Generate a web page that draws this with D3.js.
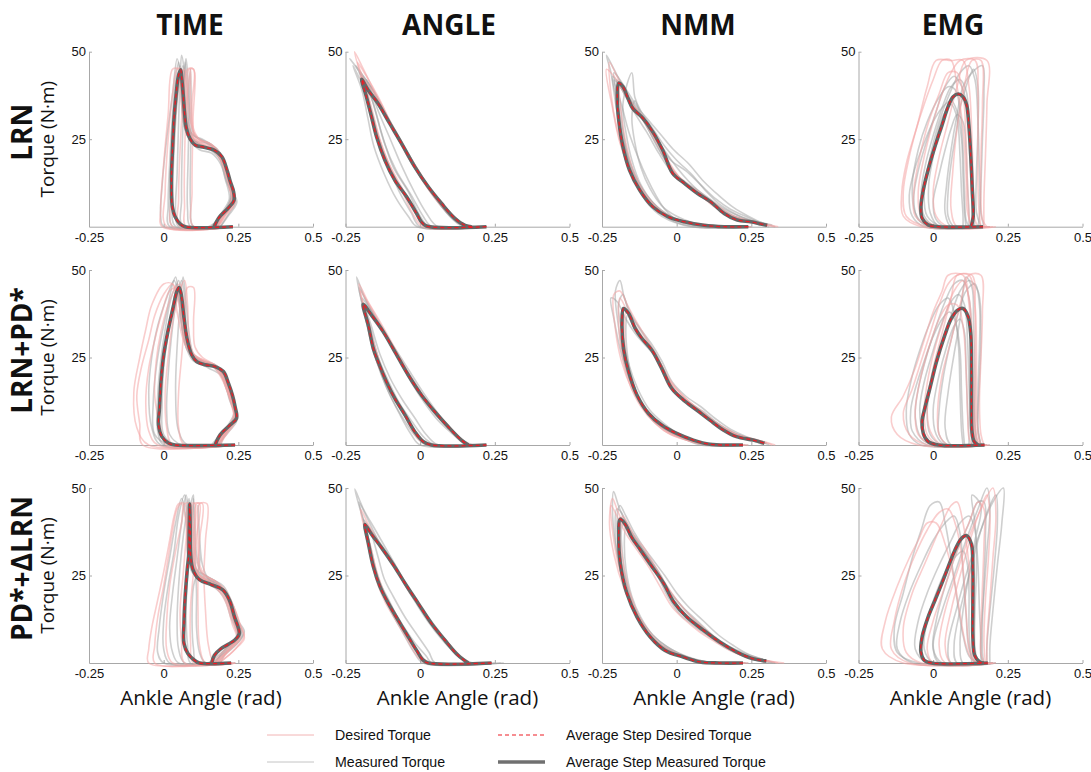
<!DOCTYPE html>
<html>
<head>
<meta charset="utf-8">
<script src="https://cdn.jsdelivr.net/npm/d3@7"></script>
<style>
  html, body { margin: 0; padding: 0; background: #fff; }
  svg { display: block; }
</style>
</head>
<body>
<svg id="chart" width="1091" height="772"></svg>
<script>
// ---- labels and ticks ----
const columnTitles = ["TIME", "ANGLE", "NMM", "EMG"];
const rowTitles = ["LRN", "LRN+PD*", "PD*+\u0394LRN"];
const xTicks = [-0.25, 0, 0.25, 0.5];
const yTicks = [25, 50];
const xLabel = "Ankle Angle (rad)";
const yLabel = "Torque (N\u00b7m)";
const legendLabels = ["Desired Torque", "Measured Torque", "Average Step Desired Torque", "Average Step Measured Torque"];

// ---- LRN row: [ankle angle (rad), torque (N·m)] ----
const lrnTimeAvg = [[0.232,0],[0.072,0],[0.055,0.8],[0.038,2.9],[0.029,5.7],[0.026,13.3],[0.030,22.9],[0.035,31.4],[0.042,38.1],[0.049,42.9],[0.057,44.8],[0.060,42.9],[0.065,38.1],[0.070,32.4],[0.076,28.1],[0.089,25],[0.106,23.3],[0.135,22.7],[0.169,21.9],[0.195,20],[0.212,16.2],[0.223,12.9],[0.234,10],[0.235,7.4],[0.215,5.2],[0.186,2.7],[0.169,0]];
const lrnTimeMeasured = [
  [[0.2,0],[0.0,0],[-0.01,3],[-0.005,12],[0.01,25],[0.03,38],[0.045,48],[0.055,44],[0.062,33],[0.075,27],[0.1,24.5],[0.14,24],[0.18,22],[0.205,17],[0.225,10],[0.22,6],[0.19,3],[0.16,0]],
  [[0.22,0],[0.05,0],[0.04,4],[0.045,15],[0.05,30],[0.055,42],[0.06,49],[0.068,45],[0.072,35],[0.08,29],[0.1,26],[0.13,25],[0.165,23],[0.2,19],[0.22,12],[0.24,8],[0.21,5],[0.17,1],[0.15,0]],
  [[0.21,0],[0.09,0],[0.08,5],[0.082,20],[0.085,35],[0.075,48],[0.07,42],[0.075,32],[0.09,27],[0.12,25],[0.16,23.5],[0.19,21],[0.215,15],[0.23,9],[0.2,4],[0.175,0]],
  [[0.2,0],[0.02,0],[0.015,6],[0.02,18],[0.028,30],[0.04,42],[0.05,47],[0.058,40],[0.066,30],[0.085,25],[0.12,22],[0.16,21],[0.19,18],[0.21,13],[0.23,8],[0.2,4],[0.18,0]],
  [[0.22,0],[0.065,0],[0.06,8],[0.062,22],[0.068,38],[0.072,47],[0.078,40],[0.083,30],[0.1,25],[0.13,23],[0.17,22],[0.2,18],[0.22,12],[0.24,7],[0.22,4],[0.19,0]],
  [[0.21,0],[0.03,0],[0.02,4],[0.025,14],[0.035,28],[0.05,40],[0.065,46],[0.07,38],[0.075,30],[0.09,26],[0.12,23.5],[0.155,22],[0.19,19],[0.21,14],[0.225,9],[0.21,5],[0.18,2],[0.16,0]],
  [[0.22,0],[0.1,0],[0.09,6],[0.09,20],[0.092,34],[0.09,45],[0.085,38],[0.09,30],[0.105,26],[0.14,24],[0.175,22],[0.205,17],[0.225,11],[0.245,7],[0.215,3],[0.19,0]],
  [[0.2,0],[0.04,0],[0.03,8],[0.035,22],[0.045,36],[0.055,46],[0.062,40],[0.068,30],[0.08,26],[0.11,24],[0.15,22.5],[0.185,20],[0.205,14],[0.22,8],[0.195,4],[0.165,0]]
];
const lrnTimeDesired = [
  [[0.2,0],[-0.005,0],[-0.01,5],[0.0,18],[0.015,32],[0.03,45],[0.05,45],[0.06,35],[0.08,27],[0.12,24],[0.17,22],[0.2,18],[0.225,10],[0.235,6],[0.2,3],[0.17,0]],
  [[0.22,0],[0.1,0],[0.095,10],[0.098,30],[0.1,45],[0.085,45],[0.085,33],[0.1,27],[0.13,24],[0.17,22.5],[0.205,17],[0.225,11],[0.24,7],[0.21,4],[0.18,0]],
  [[0.21,0],[0.03,0],[0.025,8],[0.035,25],[0.05,40],[0.07,45],[0.075,38],[0.08,30],[0.1,25.5],[0.14,23],[0.18,21],[0.21,15],[0.235,8],[0.22,5],[0.19,1],[0.17,0]],
  [[0.22,0],[0.075,0],[0.07,6],[0.07,20],[0.078,36],[0.09,45],[0.09,37],[0.095,29],[0.11,25],[0.15,24],[0.185,21],[0.215,14],[0.23,9],[0.205,4],[0.18,0]],
  [[0.21,0],[0.01,0],[0.005,10],[0.015,25],[0.03,38],[0.045,45],[0.06,45],[0.065,36],[0.075,29],[0.095,25],[0.13,23],[0.17,21.5],[0.2,17],[0.22,11],[0.23,7],[0.2,3],[0.175,0]],
  [[0.22,0],[0.055,0],[0.05,8],[0.055,22],[0.065,36],[0.08,45],[0.1,45],[0.095,35],[0.1,28],[0.12,25],[0.16,23.5],[0.195,20],[0.22,13],[0.24,8],[0.21,4],[0.185,0]]
];

const lrnAngleAvg = [[0.222,0],[0.021,0.2],[0.004,1.4],[-0.012,3.8],[-0.046,8.6],[-0.085,13.3],[-0.118,19],[-0.146,25.7],[-0.163,31.4],[-0.18,37.1],[-0.196,42.1],[-0.174,39],[-0.141,35.2],[-0.102,29.5],[-0.0625,23.8],[-0.018,17.1],[0.027,11.4],[0.071,6.7],[0.116,2.4],[0.15,0.4],[0.172,0]];
const lrnAngleMeasured = [
  [[0.2,0],[0.0,0],[-0.03,4],[-0.07,10],[-0.11,18],[-0.14,26],[-0.165,34],[-0.19,42],[-0.215,46],[-0.19,43],[-0.15,38],[-0.11,31],[-0.07,25],[-0.02,18],[0.03,11],[0.08,5],[0.13,1],[0.16,0]],
  [[0.21,0],[0.04,0],[0.01,3],[-0.03,9],[-0.08,16],[-0.12,24],[-0.15,33],[-0.18,41],[-0.235,48],[-0.2,44],[-0.165,40],[-0.12,33],[-0.08,26],[-0.03,19],[0.02,12],[0.07,6],[0.12,1.5],[0.15,0]],
  [[0.22,0],[0.06,0],[0.02,4],[-0.02,10],[-0.06,17],[-0.1,25],[-0.14,33],[-0.17,40],[-0.18,42],[-0.16,39],[-0.12,33],[-0.08,27],[-0.04,21],[0.0,15],[0.05,9],[0.1,4],[0.14,1],[0.18,0]],
  [[0.2,0],[-0.01,0],[-0.04,3],[-0.08,8],[-0.12,15],[-0.155,23],[-0.175,31],[-0.195,39],[-0.225,46],[-0.2,42],[-0.16,37],[-0.12,32],[-0.08,26],[-0.035,19],[0.01,13],[0.06,7],[0.11,2],[0.14,0]],
  [[0.22,0],[0.03,0],[0.0,3],[-0.04,10],[-0.09,17],[-0.13,27],[-0.16,36],[-0.205,44],[-0.18,41],[-0.14,35],[-0.1,29],[-0.05,22],[-0.01,16],[0.04,10],[0.09,4],[0.13,1],[0.17,0]]
];
const lrnAngleDesired = [
  [[0.22,0],[0.02,0],[-0.01,3],[-0.05,9],[-0.09,15],[-0.125,22],[-0.155,30],[-0.18,38],[-0.22,50],[-0.19,45],[-0.15,38],[-0.11,31],[-0.065,24],[-0.02,17],[0.025,11],[0.07,6],[0.12,2],[0.16,0]],
  [[0.2,0],[0.03,0],[0.0,2],[-0.04,8],[-0.08,14],[-0.115,20],[-0.145,27],[-0.17,35],[-0.2,43],[-0.17,40],[-0.13,35],[-0.09,28],[-0.05,22],[-0.005,16],[0.04,10],[0.09,5],[0.14,1],[0.175,0]],
  [[0.21,0],[0.01,0],[-0.02,3],[-0.06,10],[-0.1,17],[-0.135,25],[-0.16,33],[-0.185,41],[-0.21,47],[-0.18,43],[-0.14,37],[-0.1,30],[-0.055,23],[-0.01,16],[0.04,10],[0.09,5],[0.13,1.5],[0.165,0]]
];

const lrnNmmAvg = [[0.24,0],[0.159,0],[0.092,0.4],[0.026,1.4],[-0.03,2.9],[-0.08,5.7],[-0.124,10.5],[-0.158,16.2],[-0.18,22.9],[-0.194,30.5],[-0.199,37.1],[-0.194,41],[-0.18,40],[-0.163,36.7],[-0.147,33.8],[-0.113,31],[-0.08,27.1],[-0.047,21.9],[-0.013,15.2],[0.026,12.4],[0.07,9.5],[0.114,7.1],[0.159,3.8],[0.203,1.9],[0.248,1.4],[0.281,0.8],[0.303,0.4]];
const lrnNmmMeasured = [
  [[0.24,0],[0.1,0],[0.0,2],[-0.07,6],[-0.13,13],[-0.17,22],[-0.2,33],[-0.22,44],[-0.235,49],[-0.21,45],[-0.18,40],[-0.14,34],[-0.1,29],[-0.06,24],[-0.02,19],[0.03,16],[0.08,12],[0.13,8],[0.18,5],[0.23,3],[0.27,1.5],[0.32,0.5]],
  [[0.22,0],[0.05,0],[-0.05,3],[-0.1,7],[-0.14,13],[-0.165,20],[-0.18,28],[-0.19,36],[-0.2,42],[-0.175,38],[-0.14,34],[-0.11,30],[-0.07,24],[-0.03,18],[0.02,13],[0.06,10],[0.11,7],[0.16,4],[0.21,2.5],[0.26,1.5],[0.3,0.5]],
  [[0.25,0],[0.12,0],[0.05,1],[-0.02,3],[-0.08,7],[-0.12,12],[-0.15,19],[-0.17,27],[-0.18,35],[-0.15,44],[-0.14,37],[-0.12,33],[-0.08,28],[-0.04,23],[0.0,19],[0.05,15],[0.1,10],[0.15,6],[0.2,3.5],[0.24,2],[0.29,0.5]],
  [[0.23,0],[0.08,0],[0.0,2],[-0.04,5],[-0.07,9],[-0.1,14],[-0.13,20],[-0.16,27],[-0.185,35],[-0.21,42],[-0.19,40],[-0.16,37],[-0.12,32],[-0.09,28],[-0.05,23],[0.0,17],[0.04,13],[0.09,9],[0.14,5.5],[0.19,3],[0.25,1.5],[0.28,0.5]],
  [[0.22,0],[0.06,0],[-0.02,2],[-0.06,5],[-0.11,10],[-0.15,17],[-0.175,25],[-0.195,34],[-0.215,43],[-0.195,41],[-0.17,37],[-0.13,31],[-0.1,27],[-0.06,21],[-0.02,16],[0.02,13],[0.07,10],[0.12,7],[0.17,4],[0.22,2],[0.27,1],[0.31,0]],
  [[0.23,0],[0.1,0],[0.02,1.5],[-0.05,4],[-0.1,8],[-0.14,14],[-0.17,21],[-0.19,29],[-0.2,37],[-0.21,44],[-0.19,42],[-0.16,38],[-0.13,34],[-0.09,30],[-0.05,26],[-0.01,22],[0.04,18],[0.09,13],[0.14,9],[0.19,5.5],[0.24,3],[0.29,1],[0.33,0]],
  [[0.24,0],[0.13,0],[0.06,1],[0.0,3],[-0.05,6],[-0.09,11],[-0.12,17],[-0.14,24],[-0.15,31],[-0.14,36],[-0.12,32],[-0.09,27],[-0.06,22],[-0.03,18],[0.01,14],[0.06,11],[0.11,8],[0.16,5],[0.21,3],[0.26,1.5],[0.3,0]]
];
const lrnNmmDesired = [
  [[0.24,0],[0.1,0.3],[0.02,1.5],[-0.04,3.5],[-0.1,8],[-0.15,15],[-0.19,24],[-0.215,34],[-0.235,45],[-0.21,43],[-0.18,39],[-0.15,35],[-0.11,31],[-0.07,25],[-0.03,19],[0.01,14],[0.06,10],[0.11,7],[0.16,4],[0.21,2],[0.26,1],[0.33,0]],
  [[0.23,0],[0.12,0],[0.05,1],[-0.01,2.5],[-0.06,5],[-0.11,10],[-0.145,16],[-0.17,24],[-0.185,32],[-0.19,40],[-0.17,38],[-0.15,35],[-0.12,32],[-0.085,27],[-0.05,22],[-0.01,16],[0.03,12.5],[0.08,9.5],[0.13,6.5],[0.18,3.5],[0.23,2],[0.3,0.5]],
  [[0.25,0],[0.14,0],[0.07,0.5],[0.0,2],[-0.06,4.5],[-0.12,10],[-0.165,18],[-0.2,28],[-0.22,38],[-0.225,47],[-0.2,43],[-0.17,38],[-0.14,34],[-0.1,29],[-0.06,23],[-0.02,17],[0.02,13],[0.07,10],[0.12,6],[0.17,3.5],[0.22,2],[0.28,1],[0.34,0]]
];

const lrnEmgAvg = [[0.167,0],[0.017,0],[-0.017,0.5],[-0.037,2.4],[-0.041,5.7],[-0.033,10.5],[-0.017,16.2],[0.006,22.9],[0.028,28.6],[0.05,34.3],[0.067,37.1],[0.084,37.9],[0.1,37.1],[0.112,34.8],[0.119,29.5],[0.126,20],[0.131,10.5],[0.134,2.9],[0.128,0.2]];
const lrnEmgMeasured = [
  [[0.17,0],[0.0,0],[-0.05,2],[-0.065,8],[-0.05,16],[-0.02,25],[0.01,33],[0.04,40],[0.07,43],[0.09,41],[0.11,36],[0.125,25],[0.13,12],[0.135,3],[0.14,0]],
  [[0.16,0],[0.04,0],[0.01,2],[0.0,7],[0.02,15],[0.04,22],[0.06,28],[0.08,32],[0.1,30],[0.11,22],[0.115,12],[0.12,4],[0.12,0]],
  [[0.19,0],[0.03,0],[-0.02,3],[-0.03,10],[-0.01,20],[0.02,30],[0.05,37],[0.09,44],[0.12,46],[0.14,42],[0.15,30],[0.155,15],[0.16,4],[0.17,0]],
  [[0.15,0],[-0.03,0],[-0.07,3],[-0.08,9],[-0.06,17],[-0.03,24],[0.0,30],[0.03,34],[0.06,36],[0.08,33],[0.095,25],[0.1,14],[0.105,4],[0.11,0]],
  [[0.18,0],[0.06,0],[0.04,4],[0.045,12],[0.06,22],[0.08,32],[0.1,40],[0.13,44],[0.165,46],[0.17,38],[0.165,25],[0.16,12],[0.155,3],[0.15,0]],
  [[0.16,0],[0.02,0],[-0.01,4],[-0.015,12],[0.0,20],[0.015,27],[0.035,32],[0.06,35],[0.08,31],[0.09,20],[0.095,10],[0.1,3],[0.1,0]],
  [[0.17,0],[0.01,0],[-0.03,3],[-0.04,10],[-0.025,18],[0.0,26],[0.03,34],[0.06,40],[0.09,42],[0.11,39],[0.12,30],[0.125,18],[0.13,6],[0.135,0]],
  [[0.19,0],[0.07,0],[0.05,3],[0.05,10],[0.06,18],[0.075,26],[0.09,34],[0.11,40],[0.135,45],[0.15,40],[0.15,28],[0.145,15],[0.145,4],[0.16,0]],
  [[0.16,0],[-0.02,0],[-0.06,4],[-0.07,12],[-0.05,22],[-0.02,30],[0.02,37],[0.05,40],[0.075,39],[0.09,33],[0.1,22],[0.105,10],[0.11,2],[0.12,0]]
];
const lrnEmgDesired = [
  [[0.18,0],[-0.02,0],[-0.09,3],[-0.1,10],[-0.08,20],[-0.05,30],[-0.02,40],[0.01,47.5],[0.06,47.5],[0.1,47.5],[0.12,40],[0.13,25],[0.135,10],[0.14,2],[0.15,0]],
  [[0.2,0],[0.05,0],[0.01,3],[0.0,10],[0.02,20],[0.05,30],[0.08,40],[0.11,47.5],[0.18,47.5],[0.18,35],[0.175,20],[0.17,8],[0.17,0]],
  [[0.17,0],[0.0,0],[-0.06,3],[-0.065,10],[-0.045,20],[-0.015,30],[0.02,38],[0.05,44],[0.08,44],[0.1,38],[0.11,25],[0.115,12],[0.12,3],[0.125,0]],
  [[0.21,0],[0.08,0],[0.06,5],[0.065,15],[0.08,28],[0.1,38],[0.13,47.5],[0.16,47.5],[0.165,35],[0.16,20],[0.16,8],[0.165,2],[0.18,0]],
  [[0.19,0],[0.02,0],[-0.04,3],[-0.05,10],[-0.03,20],[0.0,30],[0.03,38],[0.06,44],[0.09,47.5],[0.14,47.5],[0.15,38],[0.15,25],[0.15,12],[0.155,3],[0.16,0]],
  [[0.17,0],[-0.04,0],[-0.1,3],[-0.105,10],[-0.09,18],[-0.06,27],[-0.03,35],[0.0,42],[0.03,47.5],[0.06,47.5],[0.08,40],[0.1,28],[0.11,15],[0.115,4],[0.13,0]]
];

// ---- LRN+PD* row ----
const lrnPdTimeAvg = [[0.239,0],[0.039,0],[0.017,0.5],[-0.006,2.4],[-0.017,5.7],[-0.014,10.5],[-0.009,18.1],[0.0,25.7],[0.014,32.4],[0.031,39],[0.044,43.8],[0.052,45],[0.059,42.9],[0.067,37.1],[0.078,30.5],[0.094,25.7],[0.111,23.8],[0.139,22.9],[0.172,22.4],[0.2,21],[0.217,17.6],[0.23,14.3],[0.239,11],[0.244,7.6],[0.222,5.7],[0.189,2.9],[0.172,0]];
const lrnPdTimeMeasured = [
  [[0.23,0],[0.02,0],[-0.03,3],[-0.035,12],[-0.025,22],[-0.01,30],[0.01,38],[0.03,46],[0.04,48],[0.05,43],[0.06,35],[0.075,28],[0.1,24],[0.14,23.5],[0.18,22.5],[0.205,19],[0.225,14],[0.235,9],[0.21,5],[0.18,2],[0.16,0]],
  [[0.24,0],[0.06,0],[0.02,3],[0.01,10],[0.015,20],[0.025,30],[0.04,40],[0.06,47],[0.07,42],[0.075,34],[0.085,27],[0.11,24],[0.15,22],[0.19,20],[0.21,16],[0.23,11],[0.245,7],[0.22,4],[0.18,0]],
  [[0.22,0],[0.0,0],[-0.02,4],[-0.02,14],[-0.01,24],[0.005,33],[0.025,42],[0.045,46],[0.055,40],[0.065,32],[0.09,26],[0.13,24],[0.17,23],[0.2,20],[0.22,15],[0.24,9],[0.215,5],[0.185,2],[0.17,0]],
  [[0.24,0],[0.08,0],[0.05,4],[0.04,15],[0.045,28],[0.055,40],[0.065,48],[0.075,41],[0.085,32],[0.1,26],[0.13,24],[0.17,22],[0.2,19],[0.22,13],[0.24,8],[0.21,4],[0.19,0]],
  [[0.23,0],[0.04,0],[0.0,3],[-0.005,12],[0.0,22],[0.015,32],[0.035,42],[0.05,47],[0.062,41],[0.07,33],[0.085,27],[0.115,24.5],[0.155,23],[0.195,21],[0.22,16],[0.24,10],[0.22,5],[0.19,2],[0.17,0]],
  [[0.24,0],[-0.01,0],[-0.04,5],[-0.05,15],[-0.04,25],[-0.02,34],[0.01,42],[0.035,47],[0.05,42],[0.06,34],[0.08,27],[0.12,24],[0.16,23],[0.2,20],[0.225,14],[0.245,8],[0.215,4],[0.18,0]]
];
const lrnPdTimeDesired = [
  [[0.22,0],[-0.05,0],[-0.09,5],[-0.1,15],[-0.08,25],[-0.06,33],[-0.04,40],[0.0,46],[0.03,46],[0.045,38],[0.07,29],[0.1,25],[0.14,23],[0.18,22],[0.21,17],[0.23,11],[0.24,7],[0.2,3],[0.17,0]],
  [[0.24,0],[0.07,0],[0.05,5],[0.05,15],[0.06,25],[0.07,35],[0.08,45],[0.1,45],[0.1,35],[0.105,28],[0.13,25],[0.17,23],[0.2,20],[0.22,15],[0.245,8],[0.22,5],[0.19,0]],
  [[0.23,0],[-0.02,0],[-0.05,4],[-0.06,12],[-0.05,22],[-0.03,30],[-0.005,38],[0.02,44],[0.05,45],[0.06,38],[0.075,30],[0.095,26],[0.13,24],[0.17,22],[0.2,18],[0.225,12],[0.235,7],[0.2,3],[0.175,0]],
  [[0.22,0],[0.03,0],[0.01,5],[0.005,15],[0.015,25],[0.03,35],[0.05,43],[0.07,47],[0.08,40],[0.085,31],[0.1,26],[0.14,24],[0.18,22],[0.21,16],[0.235,9],[0.21,4],[0.18,0]],
  [[0.22,0],[-0.07,0],[-0.08,6],[-0.09,14],[-0.075,22],[-0.05,30],[-0.03,37],[0.0,43],[0.03,46],[0.05,41],[0.065,32],[0.09,26],[0.13,24],[0.175,22],[0.205,18],[0.23,12],[0.245,8],[0.21,4],[0.18,0]],
  [[0.23,0],[0.01,0],[-0.01,5],[-0.03,14],[-0.025,24],[-0.01,32],[0.015,40],[0.04,45],[0.055,46],[0.065,38],[0.08,30],[0.1,26],[0.14,24],[0.18,22.5],[0.21,18],[0.23,12],[0.24,7],[0.21,3],[0.18,0]]
];

const lrnPdAngleAvg = [[0.222,0],[0.038,0],[0.01,1],[-0.018,3.8],[-0.051,8.6],[-0.085,13.3],[-0.113,18.1],[-0.141,23.8],[-0.157,27.6],[-0.174,34.3],[-0.191,40.2],[-0.163,37.1],[-0.124,32.4],[-0.085,26.7],[-0.04,20],[0.004,14.3],[0.049,9.5],[0.094,5.2],[0.138,1.4],[0.161,0]];
const lrnPdAngleMeasured = [
  [[0.2,0],[0.02,0],[-0.02,3],[-0.06,8],[-0.1,14],[-0.13,20],[-0.16,28],[-0.185,37],[-0.213,48],[-0.19,43],[-0.155,37],[-0.115,31],[-0.075,25],[-0.03,18],[0.015,12],[0.06,7],[0.11,3],[0.15,0]],
  [[0.22,0],[0.06,0],[0.02,3],[-0.02,8],[-0.06,13],[-0.1,19],[-0.135,26],[-0.16,33],[-0.18,39],[-0.16,37],[-0.12,32],[-0.08,27],[-0.035,21],[0.01,15],[0.06,9],[0.11,4],[0.15,1],[0.175,0]],
  [[0.21,0],[0.0,0],[-0.03,3],[-0.07,9],[-0.11,16],[-0.145,24],[-0.17,32],[-0.19,39],[-0.205,45],[-0.18,41],[-0.14,35],[-0.1,29],[-0.06,23],[-0.02,17],[0.03,11],[0.08,6],[0.13,2],[0.16,0]],
  [[0.22,0],[0.05,0],[0.015,2],[-0.03,7],[-0.07,12],[-0.105,18],[-0.14,25],[-0.165,33],[-0.195,42],[-0.17,39],[-0.13,34],[-0.09,28],[-0.05,22],[-0.005,16],[0.04,10],[0.085,6],[0.13,2],[0.165,0]]
];
const lrnPdAngleDesired = [
  [[0.21,0],[0.03,0],[0.0,2],[-0.04,7],[-0.08,13],[-0.115,19],[-0.145,26],[-0.17,34],[-0.2,44],[-0.17,40],[-0.13,34],[-0.09,28],[-0.045,21],[0.0,15],[0.045,10],[0.09,5.5],[0.135,1.5],[0.165,0]],
  [[0.22,0],[0.04,0],[0.01,1],[-0.02,4],[-0.055,9],[-0.09,14],[-0.12,19],[-0.15,25],[-0.17,33],[-0.19,40],[-0.16,37],[-0.12,32],[-0.08,26],[-0.035,20],[0.01,14],[0.055,9],[0.1,5],[0.145,1],[0.17,0]],
  [[0.2,0],[0.025,0],[-0.01,2],[-0.05,8],[-0.09,14],[-0.125,21],[-0.155,29],[-0.18,37],[-0.205,46],[-0.175,41],[-0.14,36],[-0.1,30],[-0.055,23],[-0.01,16],[0.035,10.5],[0.08,6],[0.125,2],[0.155,0]]
];

const lrnPdNmmAvg = [[0.222,0],[0.189,0],[0.111,0.2],[0.056,1.4],[0.0,3.3],[-0.05,5.7],[-0.094,9],[-0.133,14.3],[-0.161,21],[-0.178,27.6],[-0.183,35.2],[-0.178,39],[-0.161,37.6],[-0.139,33.3],[-0.117,30.5],[-0.083,27.1],[-0.05,21.9],[-0.017,16.2],[0.022,12.9],[0.067,10],[0.111,7.1],[0.156,4.3],[0.2,2.4],[0.256,1.4],[0.294,0.5]];
const lrnPdNmmMeasured = [
  [[0.24,0],[0.12,0],[0.04,1.5],[-0.03,4],[-0.09,8],[-0.14,15],[-0.175,24],[-0.195,34],[-0.205,44],[-0.19,47],[-0.175,42],[-0.15,37],[-0.12,33],[-0.085,29],[-0.05,24],[-0.015,18],[0.03,14],[0.08,11],[0.13,7.5],[0.18,4.5],[0.23,2.5],[0.28,1],[0.31,0]],
  [[0.22,0],[0.1,0],[0.03,1.5],[-0.03,4],[-0.08,7],[-0.12,12],[-0.15,19],[-0.165,26],[-0.17,34],[-0.165,37],[-0.145,34],[-0.12,31],[-0.09,28],[-0.06,23],[-0.03,18],[0.01,14],[0.05,11],[0.1,8],[0.15,5],[0.2,3],[0.25,1.5],[0.29,0]],
  [[0.23,0],[0.14,0],[0.07,1],[0.01,3],[-0.04,6],[-0.09,10],[-0.13,16],[-0.16,23],[-0.18,31],[-0.195,40],[-0.18,43],[-0.16,38],[-0.13,34],[-0.1,30],[-0.07,26],[-0.035,20],[0.0,15],[0.04,12],[0.09,9],[0.14,6],[0.19,3.5],[0.24,2],[0.3,0.5]],
  [[0.22,0],[0.08,0],[0.02,2],[-0.04,5],[-0.1,10],[-0.15,17],[-0.185,26],[-0.21,36],[-0.22,42],[-0.2,41],[-0.17,36],[-0.14,32],[-0.11,29],[-0.07,25],[-0.035,19],[0.0,15],[0.045,12],[0.09,9.5],[0.14,6],[0.19,3.5],[0.24,2],[0.3,0.5]]
];
const lrnPdNmmDesired = [
  [[0.23,0],[0.12,0],[0.05,1],[-0.02,3],[-0.07,6],[-0.12,11],[-0.16,18],[-0.185,27],[-0.195,36],[-0.19,42],[-0.17,39],[-0.145,35],[-0.115,31],[-0.08,27],[-0.045,22],[-0.01,16],[0.03,13],[0.075,10],[0.12,7],[0.17,4],[0.22,2.5],[0.27,1.5],[0.32,0]],
  [[0.22,0],[0.15,0],[0.08,0.5],[0.02,2],[-0.03,4],[-0.08,7.5],[-0.12,12],[-0.155,19],[-0.17,26],[-0.175,34],[-0.17,38],[-0.155,36],[-0.13,32],[-0.1,29],[-0.065,25],[-0.03,19],[0.01,15],[0.055,11.5],[0.1,8.5],[0.15,5],[0.2,3],[0.25,1.5],[0.3,0.5]],
  [[0.24,0],[0.1,0],[0.03,1.5],[-0.04,4],[-0.1,9],[-0.15,16],[-0.185,24],[-0.205,33],[-0.21,43],[-0.19,44],[-0.165,40],[-0.14,36],[-0.105,31],[-0.07,26],[-0.04,21],[0.0,16],[0.04,12.5],[0.085,9.5],[0.13,6.5],[0.18,4],[0.23,2],[0.29,1],[0.33,0]]
];

const lrnPdEmgAvg = [[0.172,0],[0.017,0],[-0.017,1],[-0.033,3.3],[-0.037,6.7],[-0.028,10.5],[-0.011,16.2],[0.011,23.8],[0.039,31.4],[0.061,36.2],[0.083,38.6],[0.1,39],[0.117,36.7],[0.126,31.4],[0.128,21],[0.128,11.4],[0.13,3.8],[0.137,1],[0.15,0]];
const lrnPdEmgMeasured = [
  [[0.17,0],[0.0,0],[-0.04,2],[-0.06,8],[-0.05,16],[-0.02,26],[0.01,34],[0.04,41],[0.07,46],[0.1,47],[0.12,42],[0.13,30],[0.135,15],[0.14,4],[0.145,0]],
  [[0.16,0],[0.04,0],[0.01,3],[0.0,10],[0.02,20],[0.045,28],[0.07,34],[0.09,36],[0.105,32],[0.11,22],[0.115,10],[0.12,2],[0.12,0]],
  [[0.19,0],[0.03,0],[-0.01,3],[-0.02,10],[0.0,20],[0.03,29],[0.06,37],[0.09,44],[0.12,47],[0.15,44],[0.16,32],[0.155,18],[0.15,5],[0.16,0]],
  [[0.15,0],[-0.02,0],[-0.07,4],[-0.075,10],[-0.06,16],[-0.03,24],[0.0,31],[0.03,36],[0.055,38],[0.075,35],[0.09,27],[0.095,15],[0.1,5],[0.105,0]],
  [[0.18,0],[0.06,0],[0.04,5],[0.05,15],[0.07,26],[0.09,36],[0.1,44],[0.11,48],[0.13,45],[0.135,35],[0.14,20],[0.14,6],[0.15,0]],
  [[0.17,0],[0.01,0],[-0.03,3],[-0.045,10],[-0.03,18],[0.0,27],[0.03,35],[0.06,41],[0.085,43],[0.105,40],[0.115,30],[0.12,17],[0.125,5],[0.13,0]],
  [[0.18,0],[0.05,0],[0.02,3],[0.02,10],[0.035,20],[0.06,30],[0.085,38],[0.11,44],[0.14,46],[0.155,40],[0.155,28],[0.15,15],[0.15,4],[0.16,0]],
  [[0.16,0],[-0.04,0],[-0.08,3],[-0.09,10],[-0.075,18],[-0.045,27],[-0.01,35],[0.02,40],[0.05,42],[0.07,38],[0.085,28],[0.09,15],[0.095,4],[0.1,0]]
];
const lrnPdEmgDesired = [
  [[0.17,0],[-0.05,0],[-0.12,3],[-0.14,8],[-0.1,14],[-0.06,22],[-0.03,30],[0.0,38],[0.03,44],[0.05,48.5],[0.1,48.5],[0.12,40],[0.13,25],[0.135,10],[0.14,2],[0.15,0]],
  [[0.19,0],[0.05,0],[0.02,3],[0.015,10],[0.03,20],[0.06,30],[0.09,40],[0.12,48.5],[0.16,48.5],[0.165,38],[0.16,25],[0.155,12],[0.16,3],[0.17,0]],
  [[0.16,0],[0.0,0],[-0.05,3],[-0.06,10],[-0.04,20],[-0.01,29],[0.02,36],[0.05,40],[0.08,40],[0.1,34],[0.11,22],[0.115,10],[0.12,2],[0.13,0]],
  [[0.18,0],[0.03,0],[-0.01,4],[-0.02,12],[0.0,22],[0.03,32],[0.06,42],[0.08,48.5],[0.12,48.5],[0.14,40],[0.145,26],[0.145,12],[0.15,3],[0.16,0]],
  [[0.18,0],[-0.02,0],[-0.08,3],[-0.1,9],[-0.07,16],[-0.04,24],[-0.01,32],[0.02,40],[0.05,46],[0.08,48.5],[0.13,48.5],[0.14,38],[0.14,24],[0.14,10],[0.145,2],[0.16,0]],
  [[0.17,0],[0.02,0],[-0.02,3],[-0.03,10],[-0.015,20],[0.01,29],[0.04,37],[0.07,44],[0.1,47],[0.12,42],[0.13,30],[0.13,16],[0.135,4],[0.145,0]]
];

// ---- PD*+ΔLRN row ----
const pdLrnTimeAvg = [[0.226,0],[0.12,0],[0.103,0.8],[0.081,2.7],[0.068,5.6],[0.068,11.3],[0.072,19],[0.079,26.7],[0.084,31],[0.085,36],[0.086,41.1],[0.087,45.4],[0.089,38],[0.09,31],[0.098,26.7],[0.12,23.8],[0.159,22.4],[0.198,20.9],[0.22,18],[0.237,13.2],[0.253,8.4],[0.237,6.5],[0.192,4.1],[0.17,2.2],[0.161,0]];
const pdLrnTimeMeasured = [
  [[0.22,0],[0.05,0],[0.03,3],[0.02,10],[0.03,20],[0.045,30],[0.06,40],[0.075,48],[0.085,42],[0.09,32],[0.1,27],[0.13,24.5],[0.17,23],[0.21,20],[0.235,14],[0.26,9],[0.24,6],[0.2,3.5],[0.175,0]],
  [[0.24,0],[0.14,0],[0.12,3],[0.11,10],[0.11,20],[0.105,30],[0.1,40],[0.1,47],[0.105,40],[0.11,31],[0.125,26],[0.16,24],[0.2,22],[0.23,17],[0.25,12],[0.27,9],[0.25,6],[0.21,3],[0.19,0]],
  [[0.2,0],[0.0,0],[-0.02,3],[-0.015,10],[0.0,20],[0.02,30],[0.04,40],[0.06,47],[0.075,41],[0.08,31],[0.095,26],[0.125,24],[0.165,22],[0.2,19],[0.225,13],[0.245,8],[0.22,5],[0.18,2],[0.15,0]],
  [[0.23,0],[0.09,0],[0.08,5],[0.075,15],[0.08,25],[0.085,35],[0.09,45],[0.1,48],[0.095,38],[0.1,30],[0.115,26],[0.15,24],[0.19,22],[0.22,18],[0.24,12],[0.26,8],[0.23,5],[0.19,2],[0.17,0]],
  [[0.21,0],[0.11,0],[0.1,4],[0.095,12],[0.1,22],[0.12,28],[0.12,35],[0.115,45],[0.12,36],[0.13,28],[0.15,24],[0.18,22],[0.21,19],[0.235,13],[0.25,8],[0.22,4],[0.18,1],[0.17,0]],
  [[0.24,0],[0.07,0],[0.05,4],[0.045,12],[0.05,22],[0.06,32],[0.075,42],[0.085,47],[0.09,40],[0.095,31],[0.105,27],[0.14,25],[0.18,23],[0.215,19],[0.24,13],[0.265,8],[0.24,5],[0.2,2],[0.18,0]],
  [[0.22,0],[0.02,0],[0.0,4],[0.0,12],[0.015,22],[0.035,32],[0.05,42],[0.07,48],[0.08,40],[0.085,31],[0.1,26],[0.135,24],[0.175,22.5],[0.21,19],[0.23,13],[0.25,8],[0.22,5],[0.19,2],[0.16,0]]
];
const pdLrnTimeDesired = [
  [[0.2,0],[-0.05,0],[-0.05,4],[-0.04,10],[-0.02,18],[0.0,26],[0.02,35],[0.035,42],[0.05,45.5],[0.07,45.5],[0.08,38],[0.085,30],[0.1,26],[0.14,23],[0.18,21],[0.21,17],[0.23,11],[0.245,7],[0.21,4],[0.17,1],[0.15,0]],
  [[0.24,0],[0.17,0],[0.15,5],[0.14,15],[0.135,25],[0.14,35],[0.145,45.5],[0.12,45.5],[0.115,35],[0.12,28],[0.14,25],[0.18,23],[0.21,20],[0.24,15],[0.26,10],[0.27,7],[0.24,4],[0.2,1],[0.18,0]],
  [[0.22,0],[0.03,0],[0.01,4],[0.01,12],[0.02,22],[0.04,32],[0.06,40],[0.07,45.5],[0.09,45.5],[0.09,36],[0.095,29],[0.115,25],[0.15,23],[0.19,21],[0.22,16],[0.24,10],[0.25,7],[0.22,4],[0.18,1],[0.16,0]],
  [[0.23,0],[0.1,0],[0.09,6],[0.09,16],[0.1,26],[0.11,36],[0.12,45.5],[0.1,45.5],[0.1,35],[0.105,28],[0.12,25],[0.16,23],[0.2,21],[0.225,16],[0.245,10],[0.255,7],[0.22,4],[0.19,1],[0.17,0]],
  [[0.21,0],[-0.03,0],[-0.03,5],[-0.02,13],[0.0,22],[0.015,30],[0.03,38],[0.045,44],[0.06,45.5],[0.075,40],[0.08,32],[0.095,27],[0.13,24],[0.17,22],[0.205,19],[0.23,13],[0.25,8],[0.22,4],[0.17,0]],
  [[0.24,0],[0.14,0],[0.12,5],[0.115,15],[0.115,25],[0.12,35],[0.13,45.5],[0.11,45.5],[0.105,36],[0.11,29],[0.13,25.5],[0.17,23.5],[0.205,21],[0.235,16],[0.255,11],[0.27,8],[0.24,4],[0.2,1],[0.18,0]],
  [[0.22,0],[0.07,0],[0.06,6],[0.055,15],[0.065,25],[0.075,35],[0.09,45.5],[0.105,45.5],[0.1,36],[0.1,29],[0.115,25.5],[0.155,23.5],[0.195,21],[0.225,16],[0.245,10],[0.255,7],[0.225,4],[0.19,1],[0.17,0]]
];

const pdLrnAngleAvg = [[0.239,0],[0.027,0],[0.01,0.8],[-0.012,3.6],[-0.04,7.5],[-0.074,12.3],[-0.107,17.1],[-0.135,21.9],[-0.157,27.6],[-0.174,34.4],[-0.185,39.6],[-0.163,36.8],[-0.129,32.9],[-0.09,28.1],[-0.051,22.8],[-0.007,17.1],[0.038,11.3],[0.083,6.5],[0.127,2.2],[0.161,0]];
const pdLrnAngleMeasured = [
  [[0.27,0],[0.01,0],[-0.02,3],[-0.06,9],[-0.1,15],[-0.13,21],[-0.155,28],[-0.175,36],[-0.219,49.7],[-0.19,44],[-0.15,38],[-0.11,32],[-0.07,26],[-0.03,20],[0.015,14],[0.06,9],[0.11,4],[0.15,0]],
  [[0.25,0],[0.04,0],[0.02,2],[-0.02,6],[-0.06,11],[-0.095,16],[-0.125,21],[-0.15,27],[-0.17,34],[-0.19,41],[-0.165,38],[-0.125,33],[-0.085,28],[-0.045,22],[0.0,16],[0.045,10.5],[0.09,6],[0.135,2],[0.17,0]],
  [[0.28,0],[0.03,0],[0.0,2],[-0.035,7],[-0.07,12],[-0.105,18],[-0.14,24],[-0.16,31],[-0.18,38],[-0.205,46],[-0.175,41],[-0.14,35],[-0.1,30],[-0.06,24],[-0.02,18],[0.025,12],[0.07,7],[0.12,2.5],[0.16,0]],
  [[0.24,0],[0.05,0],[0.03,3],[-0.01,8],[-0.05,13],[-0.09,19],[-0.12,24],[-0.14,30],[-0.16,36],[-0.175,39],[-0.15,36],[-0.115,31],[-0.075,26],[-0.035,20],[0.01,15],[0.055,10],[0.1,5],[0.14,1],[0.18,0]]
];
const pdLrnAngleDesired = [
  [[0.24,0],[0.02,0],[-0.01,2],[-0.045,7],[-0.08,12],[-0.115,17],[-0.14,22],[-0.16,28],[-0.18,36],[-0.2,44],[-0.17,39],[-0.135,34],[-0.095,29],[-0.055,23],[-0.01,17],[0.035,11.5],[0.08,6.5],[0.125,2],[0.16,0]],
  [[0.23,0],[0.035,0],[0.015,1],[-0.02,5],[-0.055,10],[-0.09,15],[-0.12,20],[-0.145,26],[-0.165,33],[-0.185,40],[-0.16,37],[-0.12,32],[-0.08,27],[-0.04,21],[0.0,16],[0.045,10.5],[0.09,6],[0.13,2],[0.165,0]]
];

const pdLrnNmmAvg = [[0.222,0],[0.144,0],[0.078,0.3],[0.022,1.7],[-0.039,3.6],[-0.089,7.5],[-0.133,13.2],[-0.167,20],[-0.189,28.6],[-0.194,36.3],[-0.189,41.1],[-0.172,39.6],[-0.15,35.8],[-0.122,32.4],[-0.083,27.6],[-0.044,22.8],[-0.011,17.6],[0.033,13.2],[0.089,9.4],[0.144,6],[0.2,3.2],[0.256,1.2],[0.3,0.6]];
const pdLrnNmmMeasured = [
  [[0.24,0],[0.1,0],[0.03,1.5],[-0.03,4],[-0.09,8],[-0.14,15],[-0.18,24],[-0.205,34],[-0.215,44],[-0.211,49],[-0.195,45],[-0.17,40],[-0.14,36],[-0.1,31],[-0.06,26],[-0.02,20],[0.02,16],[0.07,12],[0.12,8],[0.17,5],[0.22,3],[0.27,1.5],[0.32,0]],
  [[0.22,0],[0.15,0],[0.09,0.5],[0.03,2],[-0.03,4.5],[-0.08,8],[-0.12,13],[-0.15,19],[-0.17,27],[-0.175,35],[-0.17,39],[-0.155,37],[-0.13,33],[-0.1,29],[-0.065,25],[-0.03,19],[0.01,14],[0.06,10.5],[0.11,7.5],[0.16,4.5],[0.21,2.5],[0.26,1],[0.31,0]],
  [[0.23,0],[0.12,0],[0.05,1],[-0.01,3],[-0.07,6],[-0.12,11],[-0.16,18],[-0.19,27],[-0.205,36],[-0.2,44],[-0.185,43],[-0.16,38],[-0.12,33],[-0.085,29],[-0.05,24],[-0.01,18],[0.03,14],[0.08,10.5],[0.13,7],[0.18,4],[0.23,2],[0.28,1],[0.33,0]],
  [[0.22,0],[0.14,0],[0.06,1],[0.0,2.5],[-0.05,5],[-0.1,9],[-0.14,15],[-0.165,22],[-0.18,30],[-0.185,38],[-0.175,41],[-0.16,39],[-0.14,36],[-0.11,32],[-0.07,27],[-0.035,22],[0.0,18],[0.04,14],[0.09,10],[0.14,6.5],[0.19,3.5],[0.25,1.5],[0.3,0]],
  [[0.23,0],[0.11,0],[0.04,1.5],[-0.02,4],[-0.08,8],[-0.13,14],[-0.165,22],[-0.19,31],[-0.2,40],[-0.19,45],[-0.17,42],[-0.14,37],[-0.11,33],[-0.075,29],[-0.04,25],[0.0,20],[0.04,16],[0.09,12],[0.14,8],[0.19,5],[0.24,2.5],[0.29,1],[0.33,0]]
];
const pdLrnNmmDesired = [
  [[0.24,0],[0.12,0],[0.05,1],[-0.02,3],[-0.08,7],[-0.13,13],[-0.175,21],[-0.21,31],[-0.225,40],[-0.215,47],[-0.2,44],[-0.175,39],[-0.145,35],[-0.11,31],[-0.07,26],[-0.035,21],[0.005,16],[0.05,12],[0.1,8.5],[0.15,5.5],[0.2,3],[0.26,1.5],[0.34,0]],
  [[0.22,0],[0.14,0],[0.08,0.5],[0.02,2],[-0.04,4],[-0.09,8],[-0.13,14],[-0.16,21],[-0.18,29],[-0.19,37],[-0.18,42],[-0.165,40],[-0.14,36],[-0.11,33],[-0.075,28],[-0.04,23],[0.0,18],[0.04,14],[0.09,10],[0.14,6.5],[0.19,3.5],[0.25,1.5],[0.31,0.5]],
  [[0.23,0],[0.1,0],[0.02,2],[-0.05,5],[-0.11,11],[-0.16,19],[-0.195,28],[-0.215,38],[-0.22,45],[-0.2,42],[-0.17,37],[-0.13,32],[-0.09,27],[-0.05,21],[-0.015,16],[0.025,12.5],[0.075,9],[0.13,6],[0.18,3.5],[0.24,1.5],[0.36,0]]
];

const pdLrnEmgAvg = [[0.183,0],[-0.006,0],[-0.03,0.8],[-0.041,3.1],[-0.037,7.4],[-0.017,13.1],[0.006,17.9],[0.033,23.6],[0.05,27.4],[0.072,32.1],[0.094,35.5],[0.111,36.4],[0.128,34],[0.133,26.4],[0.133,16.9],[0.133,7.4],[0.139,2.2],[0.156,0.3],[0.17,0]];
const pdLrnEmgMeasured = [
  [[0.2,0],[-0.05,0],[-0.12,3],[-0.13,10],[-0.1,20],[-0.07,30],[-0.04,38],[-0.01,45],[0.02,46],[0.04,40],[0.06,30],[0.08,18],[0.1,8],[0.12,2],[0.15,0]],
  [[0.2,0],[0.02,0],[0.0,5],[0.03,15],[0.07,25],[0.11,35],[0.15,44],[0.18,50],[0.19,44],[0.18,32],[0.17,20],[0.16,8],[0.16,2],[0.17,0]],
  [[0.18,0],[-0.02,0],[-0.06,4],[-0.05,12],[-0.02,20],[0.02,28],[0.06,35],[0.09,40],[0.12,42],[0.14,38],[0.145,28],[0.14,15],[0.14,4],[0.15,0]],
  [[0.21,0],[0.06,0],[0.05,5],[0.08,16],[0.12,28],[0.16,38],[0.2,46],[0.235,50],[0.23,40],[0.215,28],[0.2,15],[0.19,5],[0.19,0]],
  [[0.19,0],[0.0,0],[-0.03,4],[-0.02,12],[0.01,20],[0.04,26],[0.07,30],[0.1,32],[0.115,28],[0.12,20],[0.12,10],[0.125,3],[0.13,0]],
  [[0.2,0],[0.1,0],[0.09,5],[0.1,15],[0.12,25],[0.14,35],[0.16,45],[0.13,48],[0.14,40],[0.15,28],[0.155,15],[0.16,5],[0.16,0]],
  [[0.2,0],[0.03,0],[0.0,4],[0.01,12],[0.04,22],[0.08,32],[0.12,40],[0.15,46],[0.17,46],[0.175,36],[0.17,24],[0.165,12],[0.165,3],[0.17,0]],
  [[0.19,0],[-0.07,0],[-0.12,4],[-0.11,12],[-0.08,20],[-0.04,28],[0.0,35],[0.04,40],[0.07,42],[0.09,37],[0.1,26],[0.11,14],[0.12,4],[0.14,0]],
  [[0.21,0],[0.08,0],[0.07,5],[0.09,15],[0.12,25],[0.15,35],[0.18,43],[0.21,48],[0.215,40],[0.205,28],[0.19,15],[0.18,5],[0.18,0]]
];
const pdLrnEmgDesired = [
  [[0.18,0],[-0.1,0],[-0.17,4],[-0.16,12],[-0.12,22],[-0.08,30],[-0.05,35],[-0.02,40],[0.01,40],[0.04,34],[0.07,24],[0.09,14],[0.11,5],[0.13,1],[0.15,0]],
  [[0.2,0],[0.04,0],[0.02,5],[0.04,15],[0.08,26],[0.12,36],[0.16,44],[0.2,50],[0.21,42],[0.2,30],[0.19,18],[0.18,6],[0.18,0]],
  [[0.19,0],[-0.04,0],[-0.09,3],[-0.1,10],[-0.07,20],[-0.03,28],[0.0,34],[0.03,40],[0.06,45],[0.08,46],[0.1,40],[0.12,28],[0.13,15],[0.135,4],[0.14,0]],
  [[0.21,0],[0.0,0],[-0.02,4],[0.0,12],[0.04,22],[0.08,32],[0.12,40],[0.15,46],[0.17,44],[0.17,34],[0.165,22],[0.16,10],[0.16,3],[0.17,0]],
  [[0.18,0],[-0.08,0],[-0.14,4],[-0.13,12],[-0.1,22],[-0.06,31],[-0.02,38],[0.02,43],[0.05,44],[0.08,38],[0.1,27],[0.11,15],[0.12,5],[0.14,0]],
  [[0.2,0],[0.06,0],[0.04,5],[0.06,15],[0.09,25],[0.12,34],[0.15,42],[0.18,48],[0.19,42],[0.185,30],[0.175,18],[0.17,6],[0.175,0]]
];

// ---- panel table ----
const panels = [
  { row: 0, col: 0, avg: lrnTimeAvg,     measured: lrnTimeMeasured,     desired: lrnTimeDesired },
  { row: 0, col: 1, avg: lrnAngleAvg,    measured: lrnAngleMeasured,    desired: lrnAngleDesired },
  { row: 0, col: 2, avg: lrnNmmAvg,      measured: lrnNmmMeasured,      desired: lrnNmmDesired },
  { row: 0, col: 3, avg: lrnEmgAvg,      measured: lrnEmgMeasured,      desired: lrnEmgDesired },
  { row: 1, col: 0, avg: lrnPdTimeAvg,   measured: lrnPdTimeMeasured,   desired: lrnPdTimeDesired },
  { row: 1, col: 1, avg: lrnPdAngleAvg,  measured: lrnPdAngleMeasured,  desired: lrnPdAngleDesired },
  { row: 1, col: 2, avg: lrnPdNmmAvg,    measured: lrnPdNmmMeasured,    desired: lrnPdNmmDesired },
  { row: 1, col: 3, avg: lrnPdEmgAvg,    measured: lrnPdEmgMeasured,    desired: lrnPdEmgDesired },
  { row: 2, col: 0, avg: pdLrnTimeAvg,   measured: pdLrnTimeMeasured,   desired: pdLrnTimeDesired },
  { row: 2, col: 1, avg: pdLrnAngleAvg,  measured: pdLrnAngleMeasured,  desired: pdLrnAngleDesired },
  { row: 2, col: 2, avg: pdLrnNmmAvg,    measured: pdLrnNmmMeasured,    desired: pdLrnNmmDesired },
  { row: 2, col: 3, avg: pdLrnEmgAvg,    measured: pdLrnEmgMeasured,    desired: pdLrnEmgDesired }
];

// ---- layout ----
const plotW = 224, plotH = 175;
const colLeft = [89, 345.5, 602, 858.5];
const rowTop = [51.7, 270, 488];
const titleX = [190, 449, 698, 953];

const COLORS = {
  axis: "#a8a8a8",
  measured: "#a0a0a0",
  desired: "#f4a4a4",
  avgMeasured: "#666666",
  avgDesired: "#ee1c25",
  text: "#111"
};

const svg = d3.select("#chart");
svg.append("rect").attr("width", 1091).attr("height", 772).attr("fill", "#fff");

const x = d3.scaleLinear().domain([-0.25, 0.5]).range([0, plotW]);
const y = d3.scaleLinear().domain([0, 50]).range([plotH, 0]);
const line = d3.line()
  .x(d => x(d[0]))
  .y(d => y(d[1]))
  .curve(d3.curveCatmullRom.alpha(0.5));

panels.forEach(p => {
  const g = svg.append("g")
    .attr("transform", `translate(${colLeft[p.col]},${rowTop[p.row]})`);

  // axes
  const xAxis = d3.axisBottom(x).tickValues(xTicks).tickFormat(d => String(d))
    .tickSizeInner(-3).tickSizeOuter(0).tickPadding(6);
  const yAxis = d3.axisLeft(y).tickValues(yTicks).tickFormat(d => String(d))
    .tickSizeInner(-3).tickSizeOuter(0).tickPadding(3);

  const gx = g.append("g").attr("transform", `translate(0,${plotH})`).call(xAxis);
  const gy = g.append("g").call(yAxis);
  [gx, gy].forEach(a => {
    a.attr("font-size", null).attr("font-family", null);
    a.select(".domain").attr("stroke", COLORS.axis).attr("stroke-width", 1);
    a.selectAll(".tick line").attr("stroke", COLORS.axis);
    a.selectAll(".tick text")
      .attr("fill", COLORS.text)
      .style("font-family", "'Liberation Sans', Arial, sans-serif")
      .style("font-size", "13px");
  });

  // individual steps: a soft band of thin traces
  const steps = g.append("g").attr("fill", "none").attr("stroke-linejoin", "round");
  steps.selectAll("path.measured")
    .data(p.measured).join("path")
    .attr("class", "measured")
    .attr("d", line)
    .attr("stroke", COLORS.measured)
    .attr("stroke-width", 1.6)
    .attr("stroke-opacity", 0.5);
  steps.selectAll("path.desired")
    .data(p.desired).join("path")
    .attr("class", "desired")
    .attr("d", line)
    .attr("stroke", COLORS.desired)
    .attr("stroke-width", 1.6)
    .attr("stroke-opacity", 0.55);

  // average step
  g.append("path")
    .datum(p.avg)
    .attr("d", line)
    .attr("fill", "none")
    .attr("stroke", COLORS.avgMeasured)
    .attr("stroke-width", 3.6)
    .attr("stroke-linejoin", "round");
  g.append("path")
    .datum(p.avg)
    .attr("d", line)
    .attr("fill", "none")
    .attr("stroke", COLORS.avgDesired)
    .attr("stroke-width", 1.3)
    .attr("stroke-dasharray", "4,3");
});

// column titles
svg.selectAll("text.col-title")
  .data(columnTitles).join("text")
  .attr("class", "col-title")
  .attr("x", (d, i) => titleX[i])
  .attr("y", 35)
  .attr("text-anchor", "middle")
  .style("font-family", "'Open Sans', sans-serif")
  .style("font-weight", "700")
  .style("font-size", "28px")
  .attr("fill", COLORS.text)
  .text(d => d);

// row titles and torque labels
rowTitles.forEach((t, i) => {
  const cy = rowTop[i] + plotH / 2;
  svg.append("text")
    .attr("transform", `translate(32,${cy - 7}) rotate(-90)`)
    .attr("text-anchor", "middle")
    .style("font-family", "'Open Sans', sans-serif")
    .style("font-weight", "700")
    .style("font-size", "28px")
    .attr("fill", COLORS.text)
    .text(t);
  svg.append("text")
    .attr("transform", `translate(54,${cy}) rotate(-90)`)
    .attr("text-anchor", "middle")
    .style("font-family", "'Open Sans', sans-serif")
    .style("font-size", "19px")
    .attr("fill", COLORS.text)
    .text(yLabel);
});

// x-axis labels under the bottom row
colLeft.forEach(cx => {
  svg.append("text")
    .attr("x", cx + plotW / 2)
    .attr("y", 705)
    .attr("text-anchor", "middle")
    .style("font-family", "'Open Sans', sans-serif")
    .style("font-size", "20.5px")
    .attr("fill", COLORS.text)
    .text(xLabel);
});

// legend
const legendItems = [
  { label: legendLabels[0], x: 267, y: 735, stroke: "#f2b4b4", width: 1, dash: null },
  { label: legendLabels[1], x: 267, y: 762, stroke: "#c4c4c4", width: 1, dash: null },
  { label: legendLabels[2], x: 498, y: 735, stroke: COLORS.avgDesired, width: 1.2, dash: "4,3" },
  { label: legendLabels[3], x: 498, y: 762, stroke: "#707070", width: 3.6, dash: null }
];
const lg = svg.append("g");
legendItems.forEach(it => {
  lg.append("line")
    .attr("x1", it.x).attr("x2", it.x + 47)
    .attr("y1", it.y).attr("y2", it.y)
    .attr("stroke", it.stroke)
    .attr("stroke-width", it.width)
    .attr("stroke-dasharray", it.dash);
  lg.append("text")
    .attr("x", it.x + 68)
    .attr("y", it.y + 5)
    .style("font-family", "'Liberation Sans', Arial, sans-serif")
    .style("font-size", "14.2px")
    .attr("fill", COLORS.text)
    .text(it.label);
});
</script>
</body>
</html>
